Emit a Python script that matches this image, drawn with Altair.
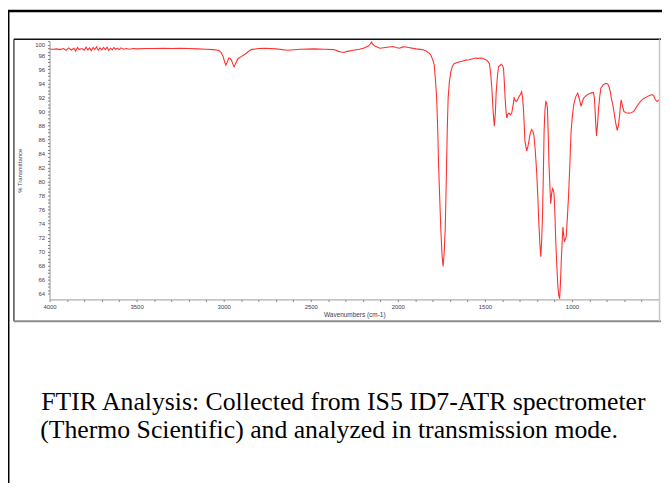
import altair as alt
import pandas as pd

# ---------------- data ----------------
wavenumber = [
    4000, 3980, 3960, 3940, 3920, 3905, 3890, 3875, 3860, 3850, 3840, 3830, 3815, 3800,
    3790, 3780, 3770, 3760, 3750, 3740, 3730, 3720, 3710, 3700, 3690, 3680, 3670, 3660,
    3650, 3640, 3630, 3620, 3610, 3600, 3590, 3575, 3560, 3540, 3520, 3500, 3450, 3400,
    3350, 3300, 3250, 3200, 3150, 3100, 3060, 3030, 3015, 3003, 2995, 2988, 2980, 2970,
    2962, 2956, 2948, 2940, 2932, 2918, 2900, 2880, 2860, 2842, 2800, 2766, 2700, 2633,
    2560, 2482, 2420, 2368, 2340, 2325, 2311, 2290, 2255, 2220, 2198, 2169, 2158, 2151,
    2145, 2132, 2103, 2070, 2040, 2027, 2010, 1990, 1975, 1961, 1940, 1895, 1860, 1838,
    1820, 1810, 1800, 1791, 1784, 1777, 1771, 1766, 1760, 1753, 1746, 1740, 1734, 1728,
    1724, 1720, 1716, 1711, 1704, 1696, 1687, 1677, 1655, 1630, 1610, 1590, 1570, 1554,
    1540, 1520, 1497, 1485, 1474, 1466, 1459, 1452, 1446, 1440, 1435, 1428, 1422, 1406,
    1398, 1393, 1388, 1384, 1378, 1374, 1368, 1361, 1353, 1346, 1338, 1332, 1325, 1317,
    1310, 1304, 1296, 1289, 1284, 1279, 1274, 1270, 1260, 1253, 1247, 1240, 1232, 1225,
    1219, 1211, 1203, 1196, 1190, 1184, 1179, 1174, 1169, 1164, 1160, 1155, 1150, 1145,
    1141, 1136, 1132, 1127, 1122, 1117, 1112, 1107, 1103, 1098, 1094, 1088, 1081, 1076,
    1071, 1066, 1062, 1057, 1052, 1047, 1043, 1038, 1033, 1026, 1020, 1012, 1005, 997,
    990, 980, 967, 958, 948, 940, 933, 920, 910, 891, 876, 871, 868, 863,
    859, 853, 847, 840, 834, 820, 806, 795, 787, 780, 774, 766, 759, 750,
    740, 733, 726, 721, 717, 710, 702, 690, 673, 660, 645, 625, 607, 590,
    569, 550, 540, 530, 521, 511, 502,
]
transmittance = [
    98.85, 98.85, 98.9, 98.8, 98.95, 98.7, 99.05, 98.75, 99.0, 98.6, 99.1, 98.8, 98.95, 98.7,
    99.15, 98.75, 99.05, 98.65, 99.1, 98.8, 99.2, 98.7, 99.05, 98.75, 99.1, 98.8, 99.15, 98.7,
    99.0, 98.75, 99.1, 98.85, 99.0, 98.8, 99.05, 98.85, 98.95, 98.85, 98.95, 98.9, 98.95, 98.95,
    99.0, 98.95, 99.0, 98.95, 98.9, 98.85, 98.8, 98.7, 98.4, 97.8, 97.1, 96.6, 97.0, 97.6,
    97.5, 97.3, 96.8, 96.35, 96.8, 97.5, 97.8, 98.1, 98.5, 98.8, 98.95, 99.0, 98.9, 98.7,
    98.85, 98.9, 98.85, 98.8, 98.55, 98.45, 98.4, 98.55, 98.7, 98.85, 99.0, 99.3, 99.6, 99.9,
    99.6, 99.3, 99.0, 99.1, 99.2, 99.25, 99.1, 99.0, 99.15, 99.2, 99.1, 98.9, 98.8, 98.6,
    98.3, 98.0, 97.4, 96.6, 94.5, 91.9, 87.5, 82.5, 78.0, 73.1, 69.5, 67.9, 69.8, 73.1,
    77.5, 82.5, 87.5, 91.9, 94.2, 95.6, 96.4, 96.8, 97.0, 97.15, 97.3, 97.35, 97.5, 97.6,
    97.55, 97.6, 97.4, 97.2, 96.8, 95.2, 92.8, 89.8, 87.9, 89.8, 92.8, 95.0, 96.35, 96.7,
    96.5, 96.1, 94.0, 91.9, 89.8, 89.05, 89.6, 89.75, 89.5, 89.75, 90.9, 91.9, 91.5, 91.4,
    91.8, 92.1, 92.4, 92.8, 92.0, 90.5, 88.0, 85.8, 84.35, 85.0, 85.8, 86.8, 87.4, 87.2,
    86.7, 84.5, 81.5, 77.8, 74.0, 71.0, 69.3, 71.5, 75.4, 81.5, 87.2, 90.2, 91.4, 91.2,
    90.5, 86.5, 82.5, 79.5, 76.85, 78.2, 79.0, 78.8, 78.3, 75.5, 72.1, 68.5, 65.1, 63.8,
    63.3, 65.5, 68.4, 71.0, 73.5, 72.3, 71.4, 71.8, 72.1, 75.0, 77.8, 82.5, 87.2, 89.5,
    90.9, 92.0, 92.6, 91.8, 90.7, 91.4, 91.9, 92.2, 92.4, 92.6, 92.7, 91.8, 90.5, 88.0,
    86.5, 88.2, 90.5, 92.2, 93.3, 93.8, 94.0, 93.9, 93.5, 92.8, 91.9, 91.0, 90.0, 88.5,
    87.3, 88.0, 89.5, 91.0, 91.65, 90.8, 90.0, 89.8, 89.75, 89.8, 90.0, 90.8, 91.4, 91.8,
    92.1, 92.3, 92.4, 92.2, 91.65, 91.4, 91.65,
]

x_ticks = list(range(500, 4001, 100))          # minor every 100, labels every 500
y_ticks = [64 + 0.5 * i for i in range(73)]     # minor every 0.5, labels every 2

caption_lines = [
    "FTIR Analysis: Collected from IS5 ID7-ATR spectrometer",
    "(Thermo Scientific) and analyzed in transmission mode.",
]

df = pd.DataFrame({"wn": wavenumber, "T": transmittance})
one = pd.DataFrame({"k": [0]})

LABEL_COLOR = "#3b3b58"
AXIS_FONT = "Liberation Sans"

x_axis = alt.Axis(
    values=x_ticks,
    labelExpr="(datum.value % 500 === 0 && datum.value > 500) ? datum.value : ''",
    labelFlush=False,
    labelOverlap=False,
    labelFont=AXIS_FONT,
    labelFontSize=6,
    labelColor=LABEL_COLOR,
    labelPadding=2,
    tickSize=2,
    tickColor="#777777",
    domainColor="#9a9a9a",
    grid=False,
    title="Wavenumbers (cm-1)",
    titleFont=AXIS_FONT,
    titleFontSize=6.5,
    titleFontWeight="normal",
    titleColor=LABEL_COLOR,
    titlePadding=2,
)
y_axis = alt.Axis(
    values=y_ticks,
    labelExpr="(datum.value % 2 === 0) ? datum.value : ''",
    labelFlush=True,
    labelOverlap=False,
    labelFont=AXIS_FONT,
    labelFontSize=6,
    labelColor=LABEL_COLOR,
    labelPadding=3,
    tickSize=2,
    tickColor="#777777",
    domainColor="#9a9a9a",
    grid=False,
    title="% Transmittance",
    titleFont=AXIS_FONT,
    titleFontSize=6,
    titleFontWeight="normal",
    titleColor=LABEL_COLOR,
    titleX=-27,
)

spectrum = alt.Chart(df).mark_line(color="#ff3030", strokeWidth=1.1, clip=True).encode(
    x=alt.X("wn:Q", scale=alt.Scale(domain=[4000, 500], nice=False, zero=False), axis=x_axis),
    y=alt.Y("T:Q", scale=alt.Scale(domain=[63.2, 100], nice=False, zero=False), axis=y_axis),
)

# frame of the embedded spectrum picture
frame_top = alt.Chart(one).mark_rule(color="#111111", strokeWidth=1.6).encode(
    x=alt.value(-36), x2=alt.value(618), y=alt.value(-2))
frame_left = alt.Chart(one).mark_rule(color="#222222", strokeWidth=1.2).encode(
    x=alt.value(-36), y=alt.value(-2), y2=alt.value(283))
frame_bottom = alt.Chart(one).mark_rule(color="#8a8a8a", strokeWidth=2).encode(
    x=alt.value(-36), x2=alt.value(618), y=alt.value(283))
frame_right = alt.Chart(one).mark_rule(color="#c8c8c8", strokeWidth=1.5).encode(
    x=alt.value(616.5), y=alt.value(-2), y2=alt.value(283))

# outer page border
outer_top = alt.Chart(one).mark_rule(color="#000000", strokeWidth=2.5).encode(
    x=alt.value(-42), x2=alt.value(625), y=alt.value(-30.5))
outer_left = alt.Chart(one).mark_rule(color="#000000", strokeWidth=2).encode(
    x=alt.value(-41.5), y=alt.value(-31), y2=alt.value(460))

cap1 = alt.Chart(one).mark_text(
    font="Liberation Serif", fontSize=26, align="center", baseline="alphabetic", color="#000000"
).encode(x=alt.value(297), y=alt.value(373), text=alt.value(caption_lines[0]))
cap2 = alt.Chart(one).mark_text(
    font="Liberation Serif", fontSize=26, align="center", baseline="alphabetic", color="#000000"
).encode(x=alt.value(282.5), y=alt.value(401), text=alt.value(caption_lines[1]))

chart = alt.layer(
    outer_top, outer_left, frame_top, frame_left, frame_bottom, frame_right,
    spectrum, cap1, cap2,
).properties(
    width=616,
    height=261,
    padding={"left": 42, "top": 31, "right": 3, "bottom": 183},
    autosize=alt.AutoSizeParams(type="none"),
    background="white",
).configure_view(strokeWidth=0)

chart.save("out.html", embed_options={"renderer": "svg", "actions": False})
